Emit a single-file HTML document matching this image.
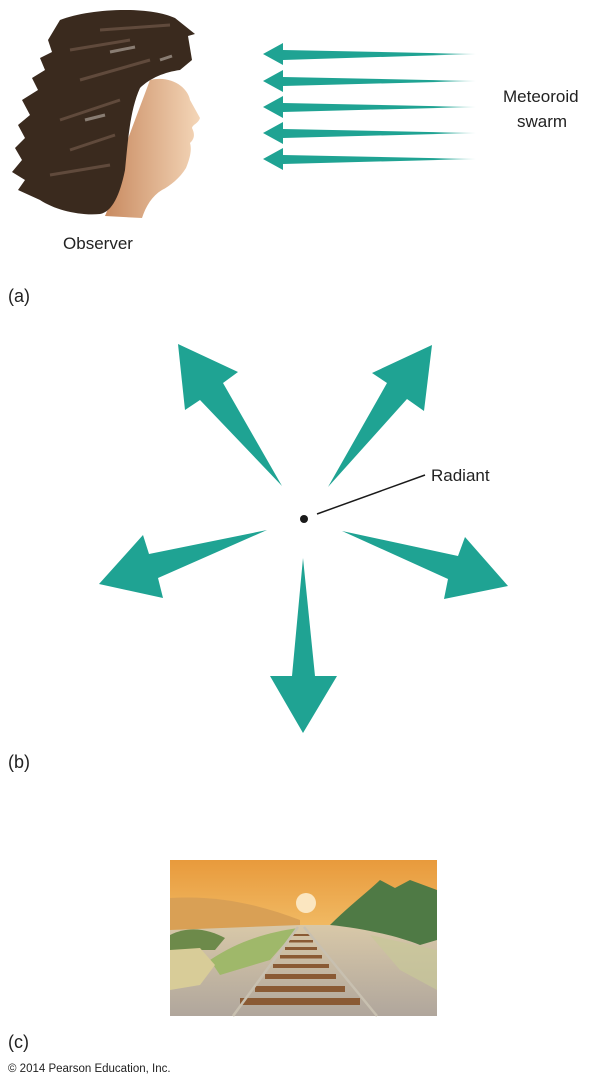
<!DOCTYPE html>
<html><head><meta charset="utf-8"><style>
html,body{margin:0;padding:0;background:#fff;}
svg{display:block;}
text{font-family:"Liberation Sans",sans-serif;fill:#222;}
</style></head><body>
<svg width="604" height="1088" viewBox="0 0 604 1088" xmlns="http://www.w3.org/2000/svg">
<defs>
<linearGradient id="sky" x1="0" y1="0" x2="0" y2="1">
<stop offset="0" stop-color="#e89a3c"/><stop offset="0.5" stop-color="#f2bf6a"/><stop offset="1" stop-color="#f6d9a0"/>
</linearGradient>
<linearGradient id="ground" x1="0" y1="0" x2="0" y2="1">
<stop offset="0" stop-color="#d8c8a8"/><stop offset="1" stop-color="#b0a69c"/>
</linearGradient>
<linearGradient id="skin" x1="0" y1="0" x2="1" y2="0">
<stop offset="0" stop-color="#c88a60"/><stop offset="1" stop-color="#f4d6b8"/>
</linearGradient>
<linearGradient id="tail" x1="0" y1="0" x2="1" y2="0">
<stop offset="0" stop-color="#1fa393"/><stop offset="0.8" stop-color="#1fa393"/><stop offset="1" stop-color="#1fa393" stop-opacity="0.3"/>
</linearGradient>
</defs>

<!-- Observer head -->
<path d="M150,80 C172,75 188,88 190,100 L200,118 C198,124 193,124 192,128 C196,136 193,140 190,143 C192,150 190,158 186,168 C180,178 170,186 162,190 C152,196 146,206 142,218 L105,216 C112,200 118,180 120,160 Z" fill="url(#skin)"/>
<path d="M60,20 C90,8 150,6 175,18 L195,34 L188,36 L192,60 L180,70 C165,72 150,78 140,88 C130,110 128,140 125,170 C120,195 112,212 100,214 C80,216 55,210 40,200 L18,190 L25,180 L12,172 L22,160 L15,148 L25,138 L18,125 L30,115 L22,100 L38,90 L32,78 L45,70 L40,58 L52,52 L48,40 Z" fill="#3a2a1e"/>
<g stroke="#7a6050" stroke-width="3" opacity="0.6" fill="none">
<path d="M70,50 L130,40"/><path d="M80,80 L150,60"/><path d="M60,120 L120,100"/><path d="M70,150 L115,135"/><path d="M50,175 L110,165"/><path d="M100,30 L170,25"/>
</g>
<g stroke="#d8d0c8" stroke-width="3" opacity="0.5" fill="none">
<path d="M110,52 L135,47"/><path d="M85,120 L105,115"/><path d="M160,60 L172,56"/>
</g>

<!-- meteoroid swarm arrows -->
<g>
<path d="M263,54 L283,43 L283,50 L476,54 L283,60 L283,65 Z" fill="url(#tail)"/>
<path d="M263,81 L283,70 L283,77 L476,81 L283,86 L283,92 Z" fill="url(#tail)"/>
<path d="M263,107 L283,96 L283,103 L476,107 L283,112 L283,118 Z" fill="url(#tail)"/>
<path d="M263,133 L283,122 L283,129 L476,133 L283,138 L283,144 Z" fill="url(#tail)"/>
<path d="M263,159 L283,148 L283,155 L476,159 L283,164 L283,170 Z" fill="url(#tail)"/>
</g>
<text x="503" y="102" font-size="17">Meteoroid</text>
<text x="517" y="127" font-size="17">swarm</text>
<text x="98" y="249" font-size="17" text-anchor="middle">Observer</text>
<text x="8" y="302" font-size="18">(a)</text>

<!-- radiant arrows -->
<g fill="#1fa393">
<path d="M178,344 L238,372 L223,383 L282,486 L200,400 L185,410 Z"/>
<path d="M432,345 L424,411 L407,399 L328,487 L387,383 L372,373 Z"/>
<path d="M99,584 L143,535 L149,554 L267,530 L158,578 L163,598 Z"/>
<path d="M508,586 L444,599 L448,579 L342,531 L458,556 L465,537 Z"/>
<path d="M303,733 L270,676 L292,676 L303,558 L315,676 L337,676 Z"/>
</g>
<circle cx="304" cy="519" r="4" fill="#1a1a1a"/>
<line x1="317" y1="514" x2="425" y2="475" stroke="#1a1a1a" stroke-width="1.5"/>
<text x="431" y="481" font-size="17">Radiant</text>
<text x="8" y="768" font-size="18">(b)</text>

<!-- railway picture -->
<g>
<rect x="170" y="860" width="267" height="156" fill="url(#sky)"/>
<path d="M170,898 C220,895 260,905 300,920 L300,935 L170,935 Z" fill="#d9a055"/>
<circle cx="306" cy="903" r="10" fill="#fbe6c0"/>
<path d="M170,930 L300,925 L437,925 L437,1016 L170,1016 Z" fill="url(#ground)"/>
<path d="M170,935 C190,925 210,930 225,938 L215,950 L170,950 Z" fill="#6d8a4a"/>
<path d="M210,960 C240,940 270,932 298,928 L270,960 L220,975 Z" fill="#9fb86a"/>
<path d="M330,925 C350,905 370,890 380,880 L395,888 L410,880 L437,890 L437,940 L420,945 C395,935 360,928 330,925 Z" fill="#4f7a45"/>
<path d="M170,950 L200,948 L215,965 L200,985 L170,990 Z" fill="#d8cc98"/>
<path d="M370,935 L437,950 L437,990 L400,970 Z" fill="#c8c898" opacity="0.7"/>
<g fill="#8a5a34">
<rect x="292" y="934" width="18" height="2"/>
<rect x="289" y="940" width="24" height="2.5"/>
<rect x="285" y="947" width="32" height="3"/>
<rect x="280" y="955" width="42" height="3.5"/>
<rect x="273" y="964" width="56" height="4"/>
<rect x="265" y="974" width="71" height="5"/>
<rect x="255" y="986" width="90" height="6"/>
<rect x="240" y="998" width="120" height="7"/>
</g>
<path d="M298,927 L233,1016 M304,927 L377,1016" stroke="#c8c0b0" stroke-width="2.5" fill="none"/>
</g>
<text x="8" y="1048" font-size="18">(c)</text>
<text x="8" y="1072" font-size="11.5">© 2014 Pearson Education, Inc.</text>
</svg>
</body></html>
